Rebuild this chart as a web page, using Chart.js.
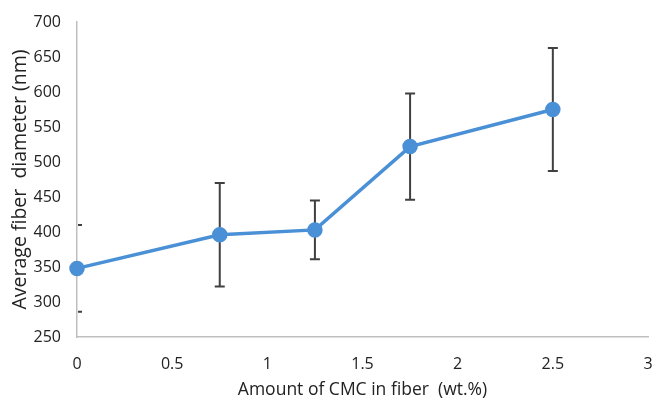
<!DOCTYPE html>
<html>
<head>
<meta charset="utf-8">
<script src="https://cdn.jsdelivr.net/npm/chart.js@4"></script>
<style>
  html, body { margin: 0; padding: 0; background: #fff; }
  #wrap { width: 654px; height: 401px; }
</style>
</head>
<body>
<div id="wrap"><canvas id="myChart"></canvas></div>
<script>
const cmcAmount = [0, 0.75, 1.25, 1.75, 2.5]
const diameter = [348, 396, 403, 522, 575]
const errorSize = [62, 74, 42, 76, 88]

const yTicks = [250, 300, 350, 400, 450, 500, 550, 600, 650, 700]
const xTicks = [0, 0.5, 1, 1.5, 2, 2.5, 3]

const points = cmcAmount.map((x, i) => ({ x: x, y: diameter[i] }))

// draws the error bars behind the markers
const errorBars = {
  id: 'errorBars',
  beforeDatasetsDraw(chart) {
    const ctx = chart.ctx
    const xs = chart.scales.x
    const ys = chart.scales.y
    const area = chart.chartArea
    ctx.save()
    ctx.beginPath()
    ctx.rect(area.left + 1, area.top - 5, area.right - area.left, area.bottom - area.top + 10)
    ctx.clip()
    ctx.strokeStyle = '#404040'
    ctx.lineWidth = 2
    cmcAmount.forEach((x, i) => {
      const px = xs.getPixelForValue(x)
      const top = ys.getPixelForValue(diameter[i] + errorSize[i])
      const bot = ys.getPixelForValue(diameter[i] - errorSize[i])
      ctx.beginPath()
      ctx.moveTo(px, top)
      ctx.lineTo(px, bot)
      ctx.moveTo(px - 5, top)
      ctx.lineTo(px + 5, top)
      ctx.moveTo(px - 5, bot)
      ctx.lineTo(px + 5, bot)
      ctx.stroke()
    })
    ctx.restore()
  }
}

const ctx = document.getElementById('myChart').getContext('2d')
const chart = new Chart(ctx, {
  type: 'scatter',
  data: {
    datasets: [{
      data: points,
      showLine: true,
      borderColor: '#4a90d6',
      backgroundColor: '#4a90d6',
      borderWidth: 3.5,
      pointRadius: 6,
      pointHoverRadius: 6,
      clip: false
    }]
  },
  options: {
    responsive: true,
    maintainAspectRatio: false,
    animation: false,
    layout: { autoPadding: false, padding: { left: 0, right: 6, top: 22, bottom: 0 } },
    plugins: { legend: { display: false }, tooltip: { enabled: false } },
    scales: {
      x: {
        type: 'linear',
        min: 0,
        max: 3,
        afterBuildTicks: (axis) => { axis.ticks = xTicks.map(v => ({ value: v })) },
        afterFit: (axis) => {
          axis.height = 64
          axis.paddingLeft = 0
          axis.paddingRight = 0
        },
        grid: { display: false, drawTicks: false },
        border: { color: '#bfbfbf', width: 1.5 },
        ticks: {
          color: '#222',
          font: { family: 'Open Sans', size: 16 },
          padding: 18,
          callback: (v) => String(v)
        },
        title: {
          display: true,
          text: 'Amount of CMC in fiber  (wt.%)',
          color: '#222',
          font: { family: 'Open Sans', size: 17.5 },
          padding: { top: 4, bottom: 0 }
        }
      },
      y: {
        min: 250,
        max: 700,
        afterBuildTicks: (axis) => { axis.ticks = yTicks.map(v => ({ value: v })) },
        afterFit: (axis) => {
          axis.width = 77
          axis.paddingTop = 0
          axis.paddingBottom = 0
        },
        grid: { display: false, drawTicks: false },
        border: { color: '#bfbfbf', width: 1.5 },
        ticks: { color: '#222', font: { family: 'Open Sans', size: 16 }, padding: 16 },
        title: {
          display: true,
          text: 'Average fiber  diameter (nm)',
          color: '#222',
          font: { family: 'Open Sans', size: 19.5 },
          padding: { top: 9, bottom: 2 }
        }
      }
    }
  },
  plugins: [errorBars]
})
</script>
</body>
</html>
